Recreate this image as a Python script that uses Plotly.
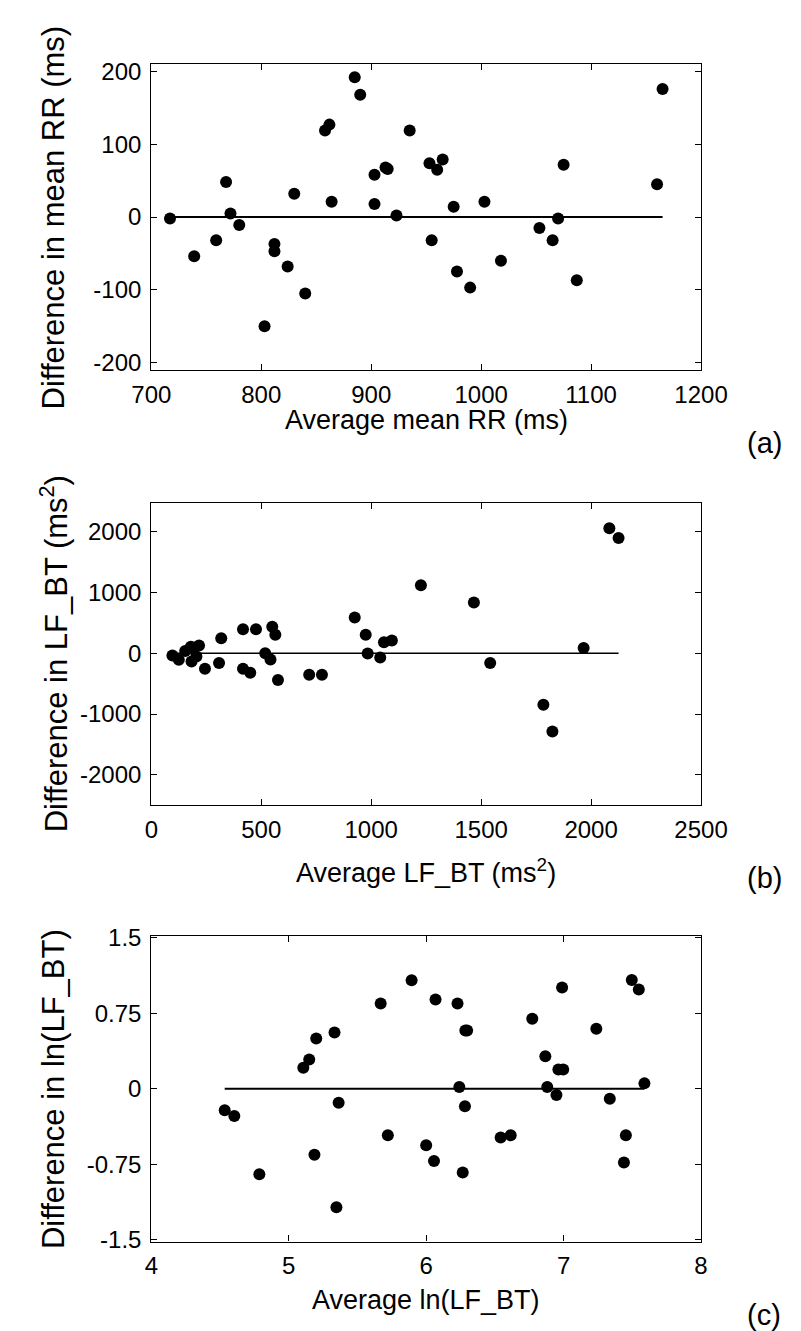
import plotly.graph_objects as go

W, H = 801, 1331

# ---------------- data ----------------
# (a) mean RR
avg_rr = [717, 739, 759, 768, 772, 780, 803, 812, 812, 824, 830, 840, 858, 862,
          864, 885, 890, 903, 903, 913, 915, 923, 935, 953, 955, 960, 965, 975,
          978, 990, 1003, 1018, 1053, 1065, 1070, 1075, 1087, 1160, 1165]
diff_rr = [-2, -54, -32, 48, 5, -11, -150, -37, -47, -68, 32, -105, 119, 127,
           21, 192, 168, 58, 18, 68, 66, 2, 119, 74, -32, 65, 79, 14,
           -75, -97, 21, -60, -15, -32, -2, 72, -87, 45, 176]

# (b) LF_BT
avg_lf = [96, 125, 154, 180, 183, 191, 205, 217, 244, 308, 318, 417, 417, 450,
          476, 518, 542, 550, 564, 576, 718, 776, 925, 975, 984, 1041, 1058,
          1094, 1226, 1467, 1541, 1783, 1824, 1966, 2083, 2125]
diff_lf = [-37, -107, 37, 107, -134, 64, -54, 129, -257, -161, 246, 396, -257,
           -321, 396, 0, -102, 434, 305, -439, -354, -354, 589, 305, -5, -70,
           182, 209, 1120, 836, -161, -846, -1286, 86, 2057, 1896]

# (c) ln(LF_BT)
avg_ln = [4.534, 4.604, 4.786, 5.106, 5.149, 5.187, 5.200, 5.333, 5.347, 5.363,
          5.669, 5.721, 5.894, 6.000, 6.057, 6.068, 6.228, 6.241, 6.266, 6.282,
          6.285, 6.298, 6.542, 6.615, 6.772, 6.867, 6.881, 6.948, 6.962, 6.997,
          6.989, 7.238, 7.336, 7.439, 7.453, 7.496, 7.547, 7.588]
diff_ln = [-0.215, -0.271, -0.850, 0.208, 0.291, -0.658, 0.500, 0.559, -1.178,
           -0.139, 0.847, -0.463, 1.079, -0.563, -0.718, 0.887, 0.847, 0.017,
           -0.834, -0.175, 0.579, 0.579, -0.486, -0.463, 0.695, 0.324, 0.017,
           -0.063, 0.192, 0.192, 1.006, 0.596, -0.099, -0.735, -0.463, 1.082,
           0.986, 0.053]

bias = [0, 0, 0]

x_titles = ["Average mean RR (ms)", "Average LF_BT (ms<sup>2</sup>)", "Average ln(LF_BT)"]
y_titles = ["Difference in mean RR (ms)", "Difference in LF_BT (ms<sup>2</sup>)",
            "Difference in ln(LF_BT)"]
panel_tags = ["(a)", "(b)", "(c)"]

x_ranges = [[700, 1200], [0, 2500], [4, 8]]
y_ranges = [[-210, 210], [-2500, 2480], [-1.52, 1.52]]
x_ticks = [[700, 800, 900, 1000, 1100, 1200], [0, 500, 1000, 1500, 2000, 2500], [4, 5, 6, 7, 8]]
y_ticks = [[-200, -100, 0, 100, 200], [-2000, -1000, 0, 1000, 2000], [-1.5, -0.75, 0, 0.75, 1.5]]
y_ticktext = [["-200", "-100", "0", "100", "200"],
              ["-2000", "-1000", "0", "1000", "2000"],
              ["-1.5", "-0.75", "0", "0.75", "1.5"]]

# ---------------- layout geometry (pixels) ----------------
box_l, box_r = 131, 715
boxes = [(45, 356), (491, 799), (932, 1243)]  # top, bottom in px
xtitle_y = [407, 866, 1302]
tag_y = [430, 873, 1318]
line_w = [2, 1.5, 2]

FONT = "Liberation Sans, Arial, sans-serif"

fig = go.Figure()
series = [(avg_rr, diff_rr), (avg_lf, diff_lf), (avg_ln, diff_ln)]

annotations = []
for i, (xs, ys) in enumerate(series):
    xa = "x" if i == 0 else f"x{i+1}"
    ya = "y" if i == 0 else f"y{i+1}"
    fig.add_trace(go.Scatter(x=[min(xs), max(xs)], y=[bias[i], bias[i]], mode="lines",
                             line=dict(color="black", width=line_w[i]),
                             xaxis=xa, yaxis=ya, showlegend=False, hoverinfo="skip"))
    fig.add_trace(go.Scatter(x=xs, y=ys, mode="markers",
                             marker=dict(color="black", size=12, line=dict(width=0)),
                             xaxis=xa, yaxis=ya, showlegend=False))
    top, bot = boxes[i]
    common = dict(showline=True, linecolor="black", linewidth=1.2, mirror="ticks",
                  ticks="inside", ticklen=6, tickwidth=1, tickcolor="black",
                  showgrid=False, zeroline=False,
                  tickfont=dict(family=FONT, size=24, color="black"))
    xkey = "xaxis" if i == 0 else f"xaxis{i+1}"
    ykey = "yaxis" if i == 0 else f"yaxis{i+1}"
    fig.update_layout(**{
        xkey: dict(domain=[box_l / W, box_r / W], range=x_ranges[i], tickvals=x_ticks[i],
                   anchor=ya, ticklabelstandoff=3, **common),
        ykey: dict(domain=[1 - bot / H, 1 - top / H], range=y_ranges[i], tickvals=y_ticks[i],
                   ticktext=y_ticktext[i], anchor=xa, ticklabelstandoff=4, **common),
    })
    # x title
    annotations.append(dict(text=x_titles[i], xref="paper", yref="paper",
                            x=(box_l + box_r) / 2 / W, y=1 - xtitle_y[i] / H,
                            xanchor="center", yanchor="middle", showarrow=False,
                            font=dict(family=FONT, size=27, color="black")))
    # y title
    annotations.append(dict(text=y_titles[i], xref="paper", yref="paper",
                            x=27 / W, y=1 - (top + bot) / 2 / H, textangle=-90,
                            xanchor="center", yanchor="middle", showarrow=False,
                            font=dict(family=FONT, size=31, color="black")))
    # panel tag
    annotations.append(dict(text=panel_tags[i], xref="paper", yref="paper",
                            x=782 / W, y=1 - tag_y[i] / H,
                            xanchor="center", yanchor="middle", showarrow=False,
                            font=dict(family=FONT, size=29, color="black")))

fig.update_layout(width=W, height=H, margin=dict(l=0, r=0, t=0, b=0),
                  paper_bgcolor="white", plot_bgcolor="white",
                  annotations=annotations, showlegend=False)

fig.write_html("out.html")
